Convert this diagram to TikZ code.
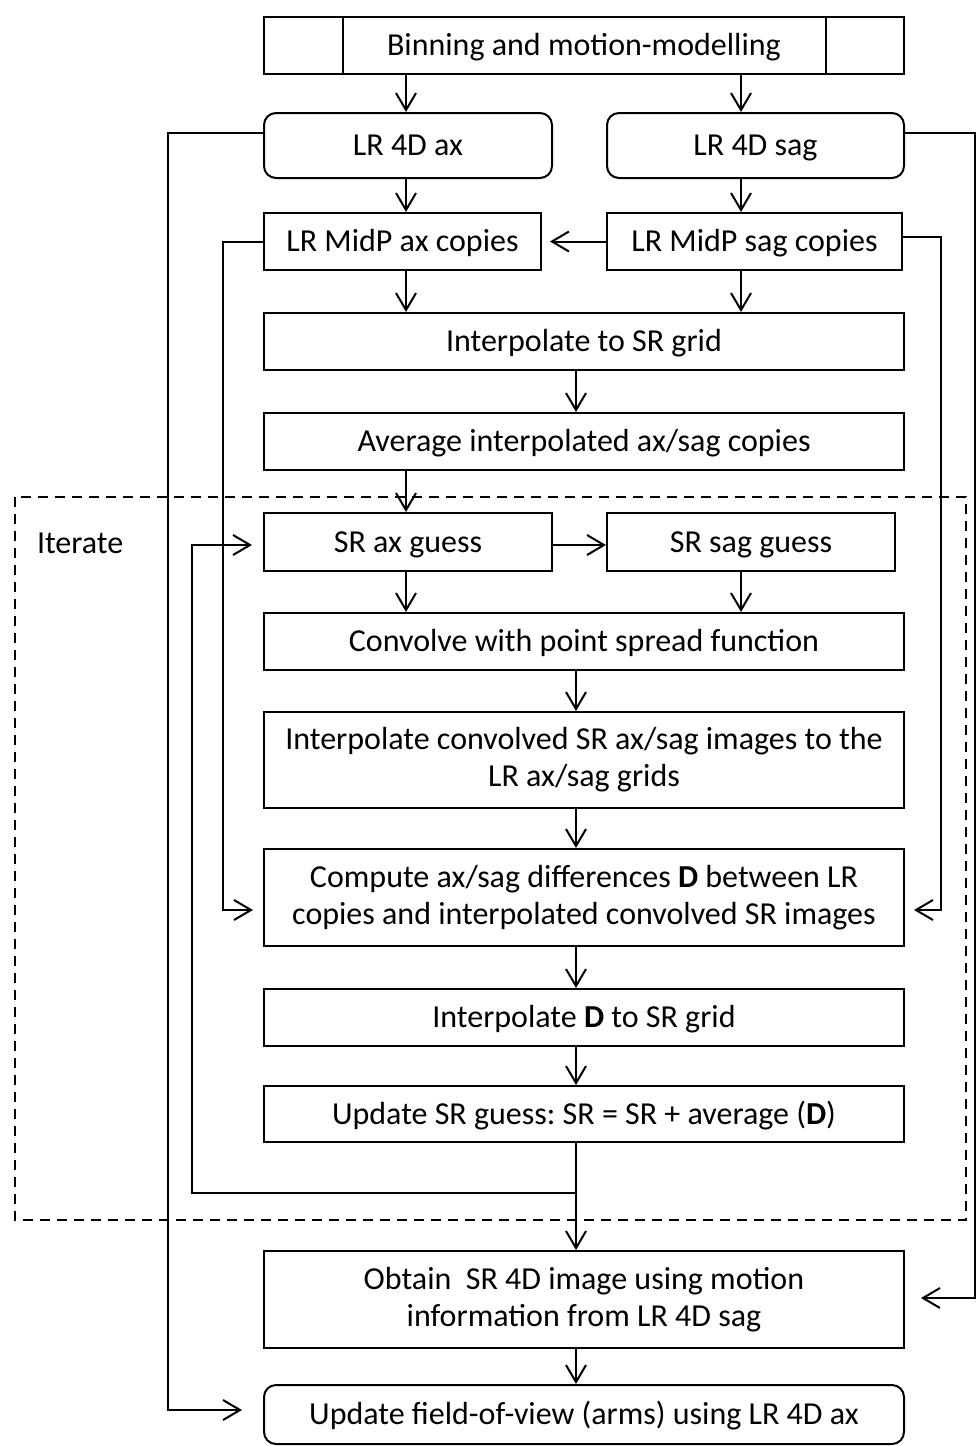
\documentclass[tikz,border=0pt]{standalone}
\usepackage{fontspec}
\setmainfont{Carlito}
\usetikzlibrary{arrows.meta}
\frenchspacing

\begin{document}
\begin{tikzpicture}[x=0.5pt,y=-0.5pt,
	line width=1pt,
	every node/.style={font=\fontsize{16}{18.5}\selectfont},
	box/.style={draw, align=center, inner sep=0pt, minimum height=28.5pt},
	line/.style={box, text height=12pt, text depth=1.7pt},
	rbox/.style={line, rounded corners=6pt},
	flow/.style={-{Straight Barb[length=8.5pt,width=10pt,line width=1pt]}},
	loopbox/.style={dashed, line width=1.4pt, dash pattern=on 5pt off 3.5pt}]
	\useasboundingbox (0,0) rectangle (976,1446);

	% columns of the arrows
	\coordinate (colA) at (406,0);
	\coordinate (colS) at (741,0);
	\coordinate (colM) at (576,0);

	% boxes
	\node[line, minimum width=320pt] (bin) at (584,45.5) {Binning and motion-modelling};
	\draw (bin.south west) ++(80,0) coordinate (binl) -- (binl |- bin.north);
	\draw (bin.south east) ++(-79,0) coordinate (binr) -- (binr |- bin.north);
	\node[rbox, minimum width=144pt, minimum height=32.5pt] (axfour) at (408,145.5) {LR 4D ax};
	\node[rbox, minimum width=148.5pt, minimum height=32.5pt] (sagfour) at (755.5,145.5) {LR 4D sag};
	\node[line, minimum width=138.5pt] (axmid) at (402.5,241.5) {LR MidP ax copies};
	\node[line, minimum width=147.5pt] (sagmid) at (754.5,241.5) {LR MidP sag copies};
	\node[line, minimum width=320pt] (interp) at (584,341.5) {Interpolate to SR grid};
	\node[line, minimum width=320pt] (avg) at (584,441.5) {Average interpolated ax/sag copies};
	\node[line, minimum width=144pt, minimum height=29pt] (axguess) at (408,542) {SR ax guess};
	\node[line, minimum width=144pt, minimum height=29pt] (sagguess) at (751,542) {SR sag guess};
	\node[line, minimum width=320pt] (conv) at (584,641.5) {Convolve with point spread function};
	\node[box, minimum width=320pt, minimum height=48pt] (interpconv) at (584,760)
		{Interpolate convolved SR ax/sag images to the\\LR ax/sag grids};
	\node[box, minimum width=320pt, minimum height=48.5pt] (diff) at (584,897.5)
		{Compute ax/sag differences \textbf{D} between LR\\copies and interpolated convolved SR images};
	\node[line, minimum width=320pt] (interpd) at (584,1017.5) {Interpolate \textbf{D} to SR grid};
	\node[line, minimum width=320pt, minimum height=28pt] (update) at (584,1114)
		{Update SR guess: SR = SR + average (\textbf{D})};
	\node[box, minimum width=320pt, minimum height=48.5pt] (obtain) at (584,1299.5)
		{Obtain\ \ SR 4D image using motion\\information from LR 4D sag};
	\node[rbox, minimum width=320pt, minimum height=29.5pt] (fov) at (584,1414.5)
		{Update field-of-view (arms) using LR 4D ax};

	% iteration loop
	\draw[loopbox] (15,497) rectangle (966,1220);
	\node[anchor=base west, inner sep=0pt] (iter) at (36,553) {Iterate};

	% straight arrows
	\draw[flow] (bin.south -| colA) -- (axfour.north -| colA);
	\draw[flow] (bin.south -| colS) -- (sagfour.north -| colS);
	\draw[flow] (axfour.south -| colA) -- (axmid.north -| colA);
	\draw[flow] (sagfour.south -| colS) -- (sagmid.north -| colS);
	\draw[flow, shorten >=4pt] (sagmid.west) -- (axmid.east);
	\draw[flow] (axmid.south -| colA) -- (interp.north -| colA);
	\draw[flow] (sagmid.south -| colS) -- (interp.north -| colS);
	\draw[flow] (interp.south -| colM) -- (avg.north -| colM);
	\draw[flow] (avg.south -| colA) -- (axguess.north -| colA);
	\draw[flow] (axguess.east |- 0,545) -- (sagguess.west |- 0,545);
	\draw[flow] (axguess.south -| colA) -- (conv.north -| colA);
	\draw[flow] (sagguess.south -| colS) -- (conv.north -| colS);
	\draw[flow] (conv.south -| colM) -- (interpconv.north -| colM);
	\draw[flow] (interpconv.south -| colM) -- (diff.north -| colM);
	\draw[flow] (diff.south -| colM) -- (interpd.north -| colM);
	\draw[flow] (interpd.south -| colM) -- (update.north -| colM);
	\draw[flow] (obtain.south -| colM) -- (fov.north -| colM);

	% feedback and side rails
	\coordinate (join) at (576,1193);
	\draw[flow] (update.south -| colM) -- (join) -- (obtain.north -| colM);
	\draw[flow, shorten >=5.5pt] (join) -| (192,545) -- (axguess.west |- 0,545);
	\draw[flow, shorten >=5pt] (axmid.west) -| (223,910) -- (diff.west |- 0,910);
	\draw[flow, shorten >=4.5pt] (sagmid.east |- 0,237) -| (941,910) -- (diff.east |- 0,910);
	\draw[flow, shorten >=10.5pt] (axfour.west |- 0,133) -| (168,1410) -- (fov.west |- 0,1410);
	\draw[flow, shorten >=8pt] (sagfour.east |- 0,133) -| (975,1298) -- (obtain.east |- 0,1298);
\end{tikzpicture}
\end{document}
